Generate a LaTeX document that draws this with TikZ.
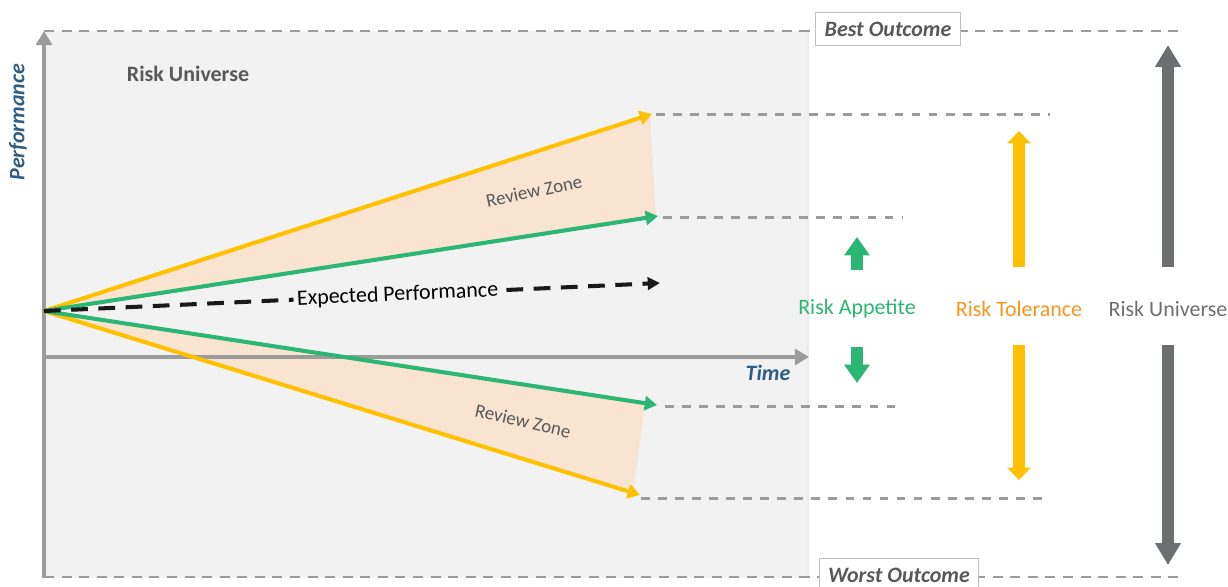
\documentclass[tikz,border=0pt]{standalone}
\usepackage{fontspec}
\setmainfont{Carlito}
\usetikzlibrary{arrows.meta}
\definecolor{riskyellow}{HTML}{FFC000}
\definecolor{riskgreen}{HTML}{2BB673}
\definecolor{riskorange}{HTML}{F7941D}
\definecolor{riskgrey}{HTML}{6D6E71}
\definecolor{axisgrey}{HTML}{9B9B9B}
\definecolor{panelgrey}{HTML}{F2F2F2}
\definecolor{zonefill}{HTML}{F8E4D0}
\definecolor{axisblue}{HTML}{2F5D84}
\definecolor{textgrey}{HTML}{595959}

\begin{document}
\begin{tikzpicture}[x=0.02cm,y=-0.02cm,semithick,
  axis/.style={draw=axisgrey,line width=2.8pt,-{Triangle[width=9pt,length=8pt]}},
  guide/.style={draw=axisgrey,line width=1.7pt,dash pattern=on 5pt off 4.7pt},
  bound/.style={draw=axisgrey,line width=1.3pt,dash pattern=on 5.7pt off 4.3pt},
  limit/.style={line width=2.3pt,-{Triangle[width=8pt,length=7pt]}},
  block/.style={line width=7.2pt},
  zonelbl/.style={text=textgrey,font=\fontsize{10.8}{12}\selectfont},
  outcome/.style={draw=black!25,fill=white,text=textgrey,font=\bfseries\itshape\fontsize{12.5}{14}\selectfont,minimum height=19pt,inner xsep=5pt},
  sidelbl/.style={font=\fontsize{12.5}{14}\selectfont}]
\useasboundingbox (0,0) rectangle (1228,586);
\fill[panelgrey] (44,31) rectangle (808,578);
\draw[black!8] (808,31) -- (808,578);

% points
\coordinate (o) at (44,311);
\coordinate (yu) at (652,114);
\coordinate (gu) at (658,216);
\coordinate (ex) at (660,283);
\coordinate (gl) at (657,405);
\coordinate (yl) at (640,495);

% review zones
\fill[zonefill] (o) -- (650,115) -- (656,216) -- cycle;
\fill[zonefill] (o) -- (645,405) -- (633,493) -- cycle;

% axes
\coordinate (a0) at (44,578);
\coordinate (aT) at (44,31);
\coordinate (h0) at (44,357);
\coordinate (hR) at (809,357);
\draw[axis] (a0) -- (aT);
\draw[axis] (h0) -- (hR);

% outcome bounds
\coordinate (bR) at (1183,31);
\coordinate (wL) at (44,577);
\coordinate (wR) at (1183,577);
\draw[bound] (aT) -- (bR);
\draw[bound] (wL) -- (wR);
\node[outcome] (best) at (888,29) {Best Outcome};
\node[outcome] (worst) at (899,575) {Worst Outcome};

% guide lines
\coordinate (yuR) at (1050,114);
\coordinate (guR) at (903,217);
\coordinate (glR) at (903,406);
\coordinate (ylR) at (1048,498);
\draw[guide] (656,114) -- (yuR);
\draw[guide] (663,217) -- (guR);
\draw[guide] (665,406) -- (glR);
\draw[guide] (641,498) -- (ylR);

% performance paths
\draw[limit,riskyellow] (o) -- (yu);
\draw[limit,riskyellow] (o) -- (yl);
\draw[limit,riskgreen] (o) -- (gu);
\draw[limit,riskgreen] (o) -- (gl);
\draw[black!90,line width=2.3pt,dash pattern=on 9.5pt off 6pt,-{Triangle[width=7pt,length=7pt]}] (o) -- (ex)
  node[pos=0.574,sloped,fill=panelgrey,inner sep=2pt,font=\fontsize{12.5}{14}\selectfont,text=black] (exp) {Expected Performance};

\node[zonelbl,rotate=12] (rz1) at (534,191) {Review Zone};
\node[zonelbl,rotate=-13] (rz2) at (523,421) {Review Zone};

% labels
\node[text=textgrey,font=\bfseries\fontsize{12.5}{14}\selectfont] (uni) at (188,74) {Risk Universe};
\node[text=axisblue,font=\bfseries\itshape\fontsize{12.5}{14}\selectfont,rotate=90] (perf) at (18,122) {Performance};
\node[text=axisblue,font=\bfseries\itshape\fontsize{12.5}{14}\selectfont] (time) at (768,373) {Time};

% appetite
\node[sidelbl,text=riskgreen] (app) at (857,309) {Risk Appetite};
\draw[block,riskgreen,-{Triangle[width=14pt,length=10.5pt]}] (857,270) -- (857,237);
\draw[block,riskgreen,-{Triangle[width=14pt,length=10.5pt]}] (857,347) -- (857,383);

% tolerance
\node[sidelbl,text=riskorange] (tol) at (1019,309) {Risk Tolerance};
\draw[block,riskyellow,-{Triangle[width=13pt,length=7pt]}] (1019,267) -- (1019,131);
\draw[block,riskyellow,-{Triangle[width=13pt,length=7pt]}] (1019,345) -- (1019,480);

% universe
\node[sidelbl,text=riskgrey] (univ) at (1168,309) {Risk Universe};
\draw[block,riskgrey,-{Triangle[width=14pt,length=12.5pt]}] (1168,267) -- (1168,45);
\draw[block,riskgrey,-{Triangle[width=14pt,length=12.5pt]}] (1168,345) -- (1168,565);
\end{tikzpicture}
\end{document}
